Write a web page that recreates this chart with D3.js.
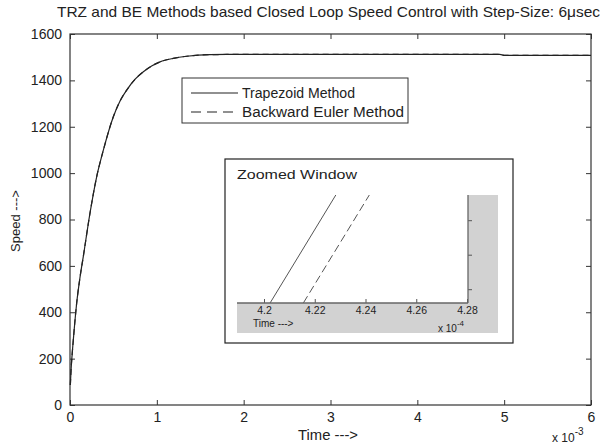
<!DOCTYPE html>
<html><head><meta charset="utf-8">
<script src="https://cdn.jsdelivr.net/npm/d3@7"></script>
<style>body{margin:0;background:#fff}svg{display:block}text{font-family:"Liberation Sans",Arial,sans-serif;fill:#222}</style>
</head><body>
<svg id="c" width="601" height="446"></svg>
<script>
// ---- data ----
const timeMs = [0.004,0.012,0.025,0.038,0.077,0.115,0.153,0.23,0.307,0.384,0.499,0.575,0.653,0.75,0.845,0.94,1.037,1.19,1.344,1.61,2.0,3,4,4.95,5.0,6.0];
const speedTrz = [86,150,220,280,440,550,640,827,984,1099,1243,1310,1358,1405,1437,1462,1480,1495,1504,1511,1512,1512,1512,1512,1508,1508];
const speedBe  = [86,150,220,280,440,550,640,827,984,1099,1243,1310,1358,1405,1437,1462,1480,1495,1504,1511,1512,1512,1512,1512,1508,1508];
const xTicks = [0,1,2,3,4,5,6];
const yTicks = [0,200,400,600,800,1000,1200,1400,1600];
const seriesNames = ["Trapezoid Method","Backward Euler Method"];
// zoomed window (time in units of 1e-4)
const zoomTime = [4.2,4.22,4.24,4.26,4.28];
const zoomTrzT = [4.2024,4.2283];
const zoomBeT  = [4.2155,4.2415];
const zoomSpeed = [16,47.3];
const zoomYTicks = [20,30,40];

const svg = d3.select("#c");
svg.append("rect").attr("width",601).attr("height",446).attr("fill","#fff");

const L=70,R=591,T=34,B=405;
const x = d3.scaleLinear().domain([0,6]).range([L,R]);
const y = d3.scaleLinear().domain([0,1600]).range([B,T]);
const axisCol="#333";

// title
svg.append("text").attr("x",57).attr("y",17).attr("font-size",15).attr("textLength",543).attr("lengthAdjust","spacingAndGlyphs")
  .text("TRZ and BE Methods based Closed Loop Speed Control with Step-Size: 6μsec");

// axes
const gx = svg.append("g").attr("transform",`translate(0,${B})`)
  .call(d3.axisBottom(x).tickValues(xTicks).tickSizeInner(-5).tickSizeOuter(0).tickPadding(7).tickFormat(d3.format("d")));
const gxt = svg.append("g").attr("transform",`translate(0,${T})`)
  .call(d3.axisTop(x).tickValues(xTicks).tickSizeInner(-5).tickSizeOuter(0).tickFormat(""));
const gy = svg.append("g").attr("transform",`translate(${L},0)`)
  .call(d3.axisLeft(y).tickValues(yTicks).tickSizeInner(-5).tickSizeOuter(0).tickPadding(8).tickFormat(d3.format("d")));
const gyr = svg.append("g").attr("transform",`translate(${R},0)`)
  .call(d3.axisRight(y).tickValues(yTicks).tickSizeInner(-5).tickSizeOuter(0).tickFormat(""));
[gx,gxt,gy,gyr].forEach(g=>{
  g.select(".domain").remove();
  g.selectAll("line").attr("stroke",axisCol);
  g.selectAll("text").attr("font-size",14).attr("fill","#222").attr("font-family","Liberation Sans, Arial, sans-serif");
});
svg.append("rect").attr("x",L).attr("y",T).attr("width",R-L).attr("height",B-T)
  .attr("fill","none").attr("stroke",axisCol).attr("stroke-width",1.2);

// axis labels
svg.append("text").attr("x",298).attr("y",440).attr("font-size",14)
  .attr("textLength",60).attr("lengthAdjust","spacingAndGlyphs").text("Time --->");
svg.append("text").attr("transform","translate(20,221) rotate(-90)").attr("text-anchor","middle").attr("font-size",13).text("Speed --->");
const e3 = svg.append("text").attr("x",552).attr("y",442).attr("font-size",12);
e3.append("tspan").text("x 10");
e3.append("tspan").attr("dy",-7).attr("font-size",10).text("-3");

// curves
const line = d3.line().x((d)=>x(d[0])).y(d=>y(d[1])).curve(d3.curveMonotoneX);
svg.append("path").datum(timeMs.map((t,i)=>[t,speedTrz[i]])).attr("d",line)
  .attr("fill","none").attr("stroke","#222").attr("stroke-width",1.2);
svg.append("path").datum(timeMs.map((t,i)=>[t,speedBe[i]])).attr("d",line)
  .attr("fill","none").attr("stroke","#222").attr("stroke-width",1.2).attr("stroke-dasharray","6,4");

// legend
const lg = svg.append("g");
lg.append("rect").attr("x",182).attr("y",78).attr("width",226).attr("height",45).attr("fill","#fff").attr("stroke",axisCol);
const lgY=[93,112];
seriesNames.forEach((n,i)=>{
  lg.append("line").attr("x1",191).attr("x2",238).attr("y1",lgY[i]).attr("y2",lgY[i]).attr("stroke","#222").attr("stroke-width",1.2)
    .attr("stroke-dasharray",i?"10,6":null);
  lg.append("text").attr("x",242).attr("y",lgY[i]+5).attr("font-size",14)
    .attr("textLength",i?162:113).attr("lengthAdjust","spacingAndGlyphs").text(n);
});

// inset
const ins = svg.append("g");
ins.append("rect").attr("x",225).attr("y",159).attr("width",288).attr("height",184).attr("fill","#fff").attr("stroke","#222").attr("stroke-width",1.2);
ins.append("text").attr("x",237).attr("y",179).attr("font-size",13.5).attr("font-family","Open Sans, Noto Sans, sans-serif")
  .attr("textLength",120).attr("lengthAdjust","spacingAndGlyphs").text("Zoomed Window");
const IL=237,IR=468,IT=195,IB=303,GR=498,GB=333;
const gray="#d2d2d2";
ins.append("rect").attr("x",IL).attr("y",IB).attr("width",GR-IL).attr("height",GB-IB).attr("fill",gray);
ins.append("rect").attr("x",IR).attr("y",IT).attr("width",GR-IR).attr("height",IB-IT).attr("fill",gray);
const zx = d3.scaleLinear().domain([4.2,4.28]).range([264,467]);
const zy = d3.scaleLinear().domain(zoomSpeed).range([IB,IT]);
svg.append("clipPath").attr("id","zc").append("rect").attr("x",IL).attr("y",IT).attr("width",IR-IL).attr("height",IB-IT);
const zl = d3.line().x(d=>zx(d[0])).y(d=>zy(d[1]));
ins.append("path").datum(zoomTrzT.map((t,i)=>[t,zoomSpeed[i]])).attr("d",zl).attr("clip-path","url(#zc)")
  .attr("fill","none").attr("stroke","#555").attr("stroke-width",1);
ins.append("path").datum(zoomBeT.map((t,i)=>[t,zoomSpeed[i]])).attr("d",zl).attr("clip-path","url(#zc)")
  .attr("fill","none").attr("stroke","#555").attr("stroke-width",1).attr("stroke-dasharray","8,4");
const zgx = ins.append("g").attr("transform",`translate(0,${IB})`)
  .call(d3.axisBottom(zx).tickValues(zoomTime).tickSizeInner(-4).tickSizeOuter(0).tickPadding(4).tickFormat(d=>String(+d.toFixed(2))));
const zgy = ins.append("g").attr("transform",`translate(${IR},0)`)
  .call(d3.axisLeft(zy).tickValues(zoomYTicks).tickSizeInner(-4).tickSizeOuter(0).tickFormat(""));
[zgx,zgy].forEach(g=>{
  g.select(".domain").remove();
  g.selectAll("line").attr("stroke","#555");
  g.selectAll("text").attr("font-size",10.5).attr("fill","#333").attr("font-family","Liberation Sans, Arial, sans-serif");
});
ins.append("line").attr("x1",IL).attr("x2",IR).attr("y1",IB).attr("y2",IB).attr("stroke","#666").attr("stroke-width",1.3);
ins.append("line").attr("x1",IR).attr("x2",IR).attr("y1",IT).attr("y2",IB).attr("stroke","#666").attr("stroke-width",1.3);
ins.append("text").attr("x",253).attr("y",327).attr("font-size",10).attr("fill","#333").text("Time --->");
const e4 = ins.append("text").attr("x",438).attr("y",332).attr("font-size",10).attr("fill","#333");
e4.append("tspan").text("x 10");
e4.append("tspan").attr("dy",-6).attr("font-size",8).text("-4");
</script>
</body></html>
